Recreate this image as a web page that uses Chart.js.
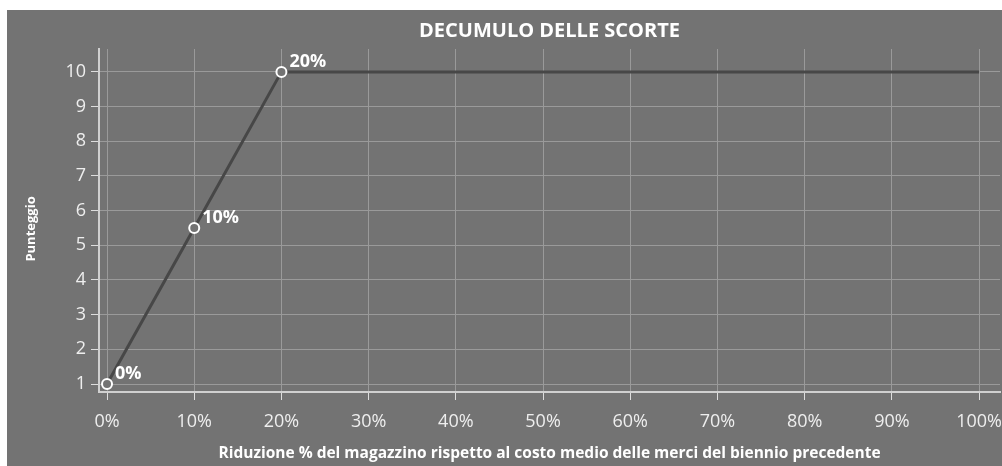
<!DOCTYPE html>
<html>
<head>
<meta charset="utf-8">
<script src="https://cdn.jsdelivr.net/npm/chart.js@4"></script>
<style>
  body { margin: 0; background: #fff; }
  #wrap { position: absolute; left: 7px; top: 10px; width: 995px; height: 456px; background: #737373; }
</style>
</head>
<body>
<div id="wrap"><canvas id="chart"></canvas></div>
<script>
// riduzione % vs punteggio
const xValues = [0, 10, 20, 100];
const yValues = [1, 5.5, 10, 10];
const pointLabels = ['0%', '10%', '20%', ''];
const xTicks = [0, 10, 20, 30, 40, 50, 60, 70, 80, 90, 100];
const yTicks = [1, 2, 3, 4, 5, 6, 7, 8, 9, 10];

const FONT = '"Open Sans"';

// draws the "0%", "10%"... labels next to the points
const labelPlugin = {
    id: 'pointLabels',
    afterDatasetsDraw(chart) {
        const ctx = chart.ctx;
        const meta = chart.getDatasetMeta(0);
        ctx.save();
        ctx.fillStyle = '#ffffff';
        ctx.font = 'bold 18px ' + FONT;
        ctx.textAlign = 'left';
        ctx.textBaseline = 'alphabetic';
        meta.data.forEach((pt, i) => {
            if (pointLabels[i]) ctx.fillText(pointLabels[i], pt.x + 8, pt.y - 5);
        });
        ctx.restore();
    }
};

new Chart(document.getElementById('chart'), {
    type: 'line',
    data: {
        datasets: [{
            data: xValues.map((x, i) => ({ x: x, y: yValues[i] })),
            borderColor: '#474747',
            borderWidth: 3,
            pointRadius: pointLabels.map(l => l ? 5 : 0),
            pointBorderWidth: 2,
            pointBorderColor: '#ffffff',
            pointBackgroundColor: '#737373',
            tension: 0
        }]
    },
    options: {
        responsive: true,
        maintainAspectRatio: false,
        animation: false,
        layout: { autoPadding: false, padding: { left: 0, right: 2, top: 0, bottom: 0 } },
        plugins: {
            legend: { display: false },
            tooltip: { enabled: false },
            title: {
                display: true,
                fullSize: false,
                text: 'DECUMULO DELLE SCORTE',
                color: '#ffffff',
                font: { family: FONT, size: 20, weight: 'bold' },
                padding: { top: 9, bottom: 6 }
            }
        },
        scales: {
            x: {
                type: 'linear',
                min: -0.92,
                max: 102.4,
                afterBuildTicks: s => { s.ticks = xTicks.map(v => ({ value: v })); },
                afterFit: s => { s.height = 74; s.paddingLeft = 0; s.paddingRight = 0; },
                ticks: {
                    color: '#eeeeee',
                    font: { family: FONT, size: 18 },
                    padding: 11,
                    callback: v => v + '%'
                },
                grid: { color: '#9a9a9a', tickColor: '#dddddd', tickLength: 8 },
                border: { color: '#d0d0d0', width: 2 },
                title: {
                    display: true,
                    text: 'Riduzione % del magazzino rispetto al costo medio delle merci del biennio precedente',
                    color: '#ffffff',
                    font: { family: FONT, size: 15.5, weight: 'bold' },
                    padding: { top: 8, bottom: 3 }
                }
            },
            y: {
                type: 'linear',
                min: 0.77,
                max: 10.66,
                afterBuildTicks: s => { s.ticks = yTicks.map(v => ({ value: v })); },
                afterFit: s => { s.width = 92; },
                ticks: {
                    color: '#eeeeee',
                    font: { family: FONT, size: 18 },
                    padding: 5
                },
                grid: { color: '#9a9a9a', tickColor: '#dddddd', tickLength: 8 },
                border: { color: '#d0d0d0', width: 2 },
                title: {
                    display: true,
                    text: 'Punteggio\u00a0\u00a0\u00a0\u00a0\u00a0',
                    color: '#ffffff',
                    font: { family: FONT, size: 13, weight: 'bold' },
                    padding: { top: 16, bottom: 0 }
                }
            }
        }
    },
    plugins: [labelPlugin]
});
</script>
</body>
</html>
